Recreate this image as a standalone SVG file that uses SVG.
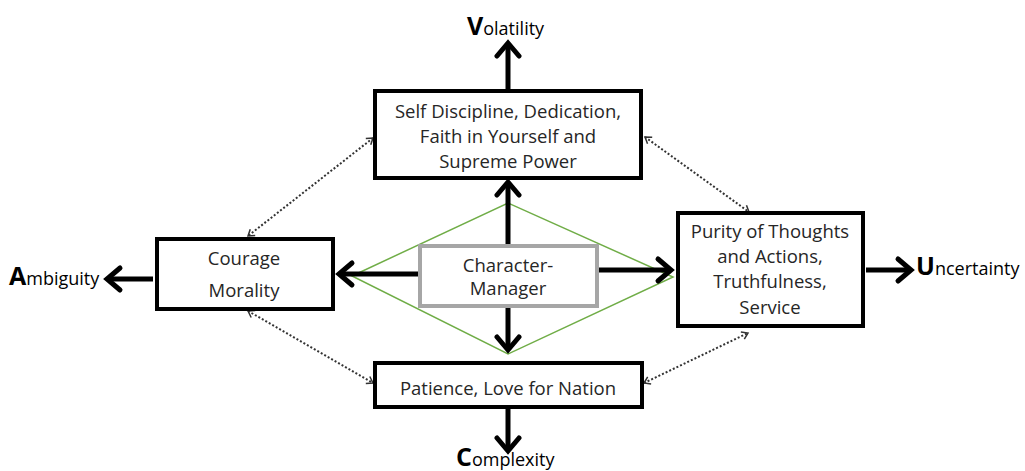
<svg xmlns="http://www.w3.org/2000/svg" width="1025" height="471" viewBox="0 0 1025 471">
<defs>
<style>
.box{fill:#fff;stroke:#000;stroke-width:4}
.cbox{fill:#fff;stroke:#a6a6a6;stroke-width:4}
.t{font-family:"Open Sans","Noto Sans",sans-serif;font-size:18.5px;fill:#262626;text-anchor:middle}
.lbl{font-family:"Open Sans","Noto Sans",sans-serif;font-size:18px;fill:#000}
.big{font-size:25px;font-weight:bold}
.thick{fill:none;stroke:#000;stroke-width:5;marker-end:url(#head)}
.dot{fill:none;stroke:#333;stroke-width:2;stroke-dasharray:2 2;marker-start:url(#sh);marker-end:url(#sh)}
</style>
<marker id="head" markerUnits="userSpaceOnUse" markerWidth="40" markerHeight="40" refX="0" refY="0" viewBox="-20 -20 40 40" orient="auto" overflow="visible">
<path d="M-13,-11 L0,0 L-13,11" fill="none" stroke="#000" stroke-width="5" stroke-linecap="round" stroke-linejoin="miter"/>
</marker>
<marker id="sh" markerUnits="userSpaceOnUse" markerWidth="20" markerHeight="20" refX="0" refY="0" viewBox="-10 -10 20 20" orient="auto-start-reverse" overflow="visible">
<path d="M-6,-4 L0,0 L-6,4" fill="none" stroke="#333" stroke-width="1.5"/>
</marker>
</defs>
<rect width="1025" height="471" fill="#fff"/>
<g id="connectors">
<polygon points="352,276 508,203 673,277 508,354" fill="none" stroke="#70ad47" stroke-width="1.5"/>
<line class="thick" x1="508" y1="90" x2="508" y2="43"/>
<line class="thick" x1="153" y1="279" x2="107" y2="279"/>
<line class="thick" x1="866" y1="270" x2="911" y2="270"/>
<line class="thick" x1="508" y1="408" x2="508" y2="451"/>
<line class="thick" x1="508" y1="245" x2="508" y2="182"/>
<line class="thick" x1="418" y1="274" x2="339" y2="274"/>
<line class="thick" x1="598" y1="270" x2="671" y2="270"/>
<line class="thick" x1="508" y1="307" x2="508" y2="350"/>
<line class="dot" x1="373" y1="138" x2="248" y2="236"/>
<line class="dot" x1="645" y1="137" x2="749" y2="212"/>
<line class="dot" x1="248" y1="311" x2="373" y2="383"/>
<line class="dot" x1="644" y1="383" x2="748" y2="333"/>
</g>
<g id="top">
<rect class="box" x="375" y="91" width="266" height="87"/>
<text class="t" x="508" y="118">Self Discipline, Dedication,</text>
<text class="t" x="508" y="143">Faith in Yourself and</text>
<text class="t" x="508" y="168">Supreme Power</text>
</g>
<g id="left">
<rect class="box" x="157" y="239" width="176" height="70"/>
<text class="t" x="244" y="265">Courage</text>
<text class="t" x="244" y="297">Morality</text>
</g>
<g id="center">
<rect class="cbox" x="420" y="246" width="177" height="60"/>
<text class="t" x="508" y="272">Character-</text>
<text class="t" x="508" y="295">Manager</text>
</g>
<g id="right">
<rect class="box" x="678" y="213" width="185" height="113"/>
<text class="t" x="770" y="238">Purity of Thoughts</text>
<text class="t" x="770" y="263">and Actions,</text>
<text class="t" x="770" y="288">Truthfulness,</text>
<text class="t" x="770" y="314">Service</text>
</g>
<g id="bottom">
<rect class="box" x="375" y="363" width="267" height="44"/>
<text class="t" x="508" y="395">Patience, Love for Nation</text>
</g>
<g id="volatility"><text class="lbl" x="467" y="35"><tspan class="big">V</tspan>olatility</text></g>
<g id="ambiguity"><text class="lbl" x="9" y="285"><tspan class="big">A</tspan>mbiguity</text></g>
<g id="uncertainty"><text class="lbl" x="916" y="275"><tspan class="big">U</tspan>ncertainty</text></g>
<g id="complexity"><text class="lbl" x="456" y="466"><tspan class="big">C</tspan>omplexity</text></g>
</svg>
